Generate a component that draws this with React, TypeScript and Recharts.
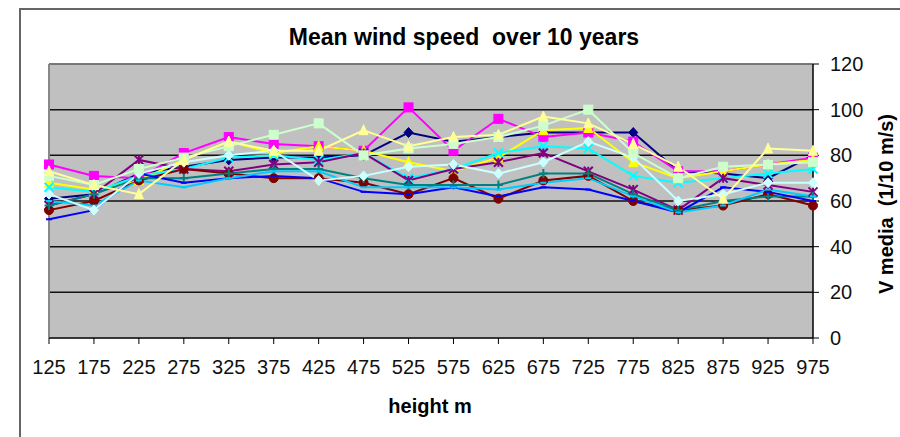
import React from 'react';
import { LineChart, Line, XAxis, YAxis, CartesianGrid, ReferenceLine } from 'recharts';

const categories = ['125','175','225','275','325','375','425','475','525','575','625','675','725','775','825','875','925','975'];
const yTicks = [0, 20, 40, 60, 80, 100, 120];

const navy      = [61, 63, 72, 75, 78, 79, 79, 80, 90, 86, 88, 90, 90, 90, 73, 72, 70, 80];
const magenta   = [76, 71, 70, 81, 88, 85, 84, 82, 101, 82, 96, 88, 90, 86, 73, 73, 76, 79];
const yellow    = [68, 65, 69, 78, 86, 81, 84, 82, 77, 73, 79, 91, 92, 77, 70, 73, 76, 78];
const cyan      = [66, 64, 71, 74, 79, 80, 78, 81, 70, 74, 81, 84, 83, 71, 68, 70, 72, 74];
const purple    = [58, 63, 78, 74, 73, 76, 77, 81, 69, 74, 77, 81, 73, 65, 56, 70, 67, 64];
const darkRed   = [56, 60, 69, 74, 72, 70, 70, 68, 63, 70, 61, 69, 71, 60, 56, 58, 63, 58];
const teal      = [58, 63, 70, 70, 72, 74, 74, 70, 67, 67, 67, 72, 72, 63, 56, 60, 62, 62];
const blue      = [52, 56, 72, 68, 70, 71, 70, 64, 63, 66, 62, 66, 65, 60, 55, 66, 64, 60];
const skyBlue   = [60, 58, 69, 66, 70, 73, 73, 66, 66, 66, 65, 68, 70, 62, 55, 58, 65, 62];
const lightCyan = [63, 56, 72, 77, 80, 82, 69, 71, 75, 76, 72, 77, 86, 79, 60, 63, 68, 68];
const lightGreen= [71, 67, 74, 79, 84, 89, 94, 80, 83, 85, 88, 93, 100, 81, 70, 75, 76, 77];
const lightYellow=[73, 67, 63, 78, 86, 82, 82, 91, 84, 88, 89, 97, 94, 85, 75, 61, 83, 82];

const seriesList = [
  { key: 's1', values: navy, color: '#000080', marker: 'diamond' },
  { key: 's2', values: magenta, color: '#FF00FF', marker: 'square' },
  { key: 's3', values: yellow, color: '#FFFF00', marker: 'triangle' },
  { key: 's4', values: cyan, color: '#00FFFF', marker: 'x' },
  { key: 's5', values: purple, color: '#800080', marker: 'star' },
  { key: 's6', values: darkRed, color: '#800000', marker: 'circle' },
  { key: 's7', values: teal, color: '#008080', marker: 'plus' },
  { key: 's8', values: blue, color: '#0000FF', marker: 'dash' },
  { key: 's9', values: skyBlue, color: '#00CCFF', marker: 'dash' },
  { key: 's10', values: lightCyan, color: '#CCFFFF', marker: 'diamond' },
  { key: 's11', values: lightGreen, color: '#CCFFCC', marker: 'square' },
  { key: 's12', values: lightYellow, color: '#FFFF99', marker: 'triangle' },
];

const data = categories.map((c, i) => {
  const row: Record<string, string | number> = { cat: c };
  seriesList.forEach((s) => { row[s.key] = s.values[i]; });
  return row;
});

const makeDot = (marker: string, color: string) => (props: any) => {
  const { cx, cy, index } = props;
  const k = `${marker}-${color}-${index}`;
  if (cx == null || cy == null) return <g key={k} />;
  const r = 4.5;
  switch (marker) {
    case 'diamond':
      return <polygon key={k} points={`${cx},${cy - r - 0.5} ${cx + r},${cy} ${cx},${cy + r + 0.5} ${cx - r},${cy}`} fill={color} stroke={color} />;
    case 'square':
      return <rect key={k} x={cx - r} y={cy - r} width={2 * r} height={2 * r} fill={color} stroke={color} />;
    case 'triangle':
      return <polygon key={k} points={`${cx},${cy - r - 1} ${cx + r},${cy + r} ${cx - r},${cy + r}`} fill={color} stroke={color} />;
    case 'x':
      return <path key={k} d={`M${cx - r},${cy - r}L${cx + r},${cy + r}M${cx - r},${cy + r}L${cx + r},${cy - r}`} stroke={color} strokeWidth={2} />;
    case 'star':
      return <path key={k} d={`M${cx - r},${cy - r}L${cx + r},${cy + r}M${cx - r},${cy + r}L${cx + r},${cy - r}M${cx},${cy - r}L${cx},${cy + r}`} stroke={color} strokeWidth={2} />;
    case 'circle':
      return <circle key={k} cx={cx} cy={cy} r={r} fill={color} stroke={color} />;
    case 'plus':
      return <path key={k} d={`M${cx - r},${cy}L${cx + r},${cy}M${cx},${cy - r}L${cx},${cy + r}`} stroke={color} strokeWidth={2} />;
    default:
      return <path key={k} d={`M${cx - 3},${cy}L${cx + 3},${cy}`} stroke={color} strokeWidth={2} />;
  }
};

const font = 'Arial, "Liberation Sans", sans-serif';

export default function App() {
  return (
    <div style={{ position: 'absolute', left: 0, top: 0, width: 900, height: 437, background: '#fff', overflow: 'hidden', fontFamily: font }}>
      <div style={{ position: 'absolute', left: 19, top: 8, width: 900, height: 440, borderLeft: '2px solid #666', borderTop: '2px solid #666', boxSizing: 'border-box' }} />
      <div style={{ position: 'absolute', left: 214, width: 500, top: 24, textAlign: 'center', fontWeight: 'bold', fontSize: 23, color: '#000' }}>
        Mean wind speed&nbsp; over 10 years
      </div>
      <div style={{ position: 'absolute', left: 330, width: 200, top: 395, textAlign: 'center', fontWeight: 'bold', fontSize: 20, color: '#000' }}>
        height m
      </div>
      <div style={{ position: 'absolute', left: 886 - 120, top: 204 - 12, width: 240, height: 24, lineHeight: '24px', textAlign: 'center', fontWeight: 'bold', fontSize: 20, color: '#000', transform: 'rotate(-90deg)', whiteSpace: 'pre' }}>
        {'V media  (1/10 m/s)'}
      </div>
      <div style={{ position: 'absolute', left: 0, top: 0 }}>
        <LineChart width={900} height={437} data={data} margin={{ top: 64, right: 27, bottom: 59, left: 49 }}>
          <CartesianGrid vertical={false} fill="#C0C0C0" stroke="#111" strokeWidth={1.5} />
          <XAxis
            dataKey="cat"
            interval={0}
            tickSize={6}
            tickMargin={16}
            height={40}
            stroke="#000"
            axisLine={{ stroke: '#333', strokeWidth: 1.5 }}
            tickLine={{ stroke: '#000' }}
            tick={{ fill: '#111', fontSize: 20, fontFamily: font }}
          />
          <YAxis
            orientation="right"
            domain={[0, 120]}
            ticks={yTicks}
            interval={0}
            width={60}
            tickSize={6}
            tickMargin={11}
            axisLine={{ stroke: '#000', strokeWidth: 1.5 }}
            tickLine={{ stroke: '#000' }}
            tick={{ fill: '#111', fontSize: 20, fontFamily: font }}
          />
          <ReferenceLine y={120} stroke="#888" strokeWidth={1.5} />
          <ReferenceLine x="125" stroke="#888" strokeWidth={2} />
          {seriesList.map((s) => (
            <Line
              key={s.key}
              dataKey={s.key}
              stroke={s.color}
              strokeWidth={2}
              dot={makeDot(s.marker, s.color)}
              activeDot={false}
              isAnimationActive={false}
            />
          ))}
        </LineChart>
      </div>
    </div>
  );
}
